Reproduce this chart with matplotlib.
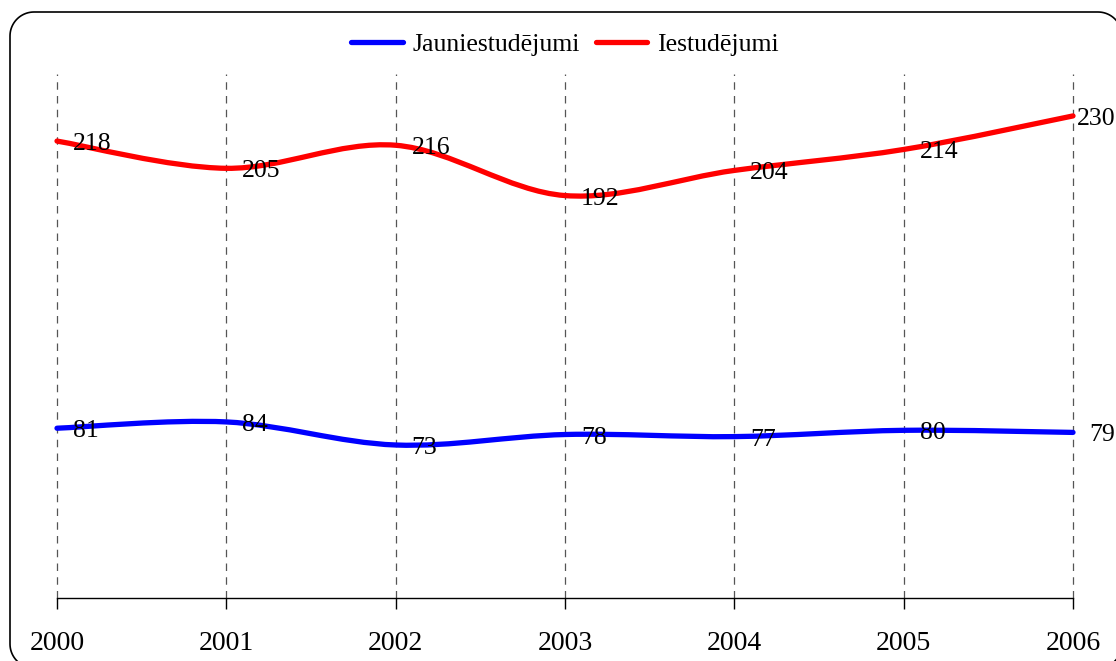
import numpy as np
import matplotlib
matplotlib.use("Agg")
import matplotlib.pyplot as plt
from matplotlib.path import Path
from matplotlib.patches import PathPatch
from matplotlib.lines import Line2D
from matplotlib.transforms import IdentityTransform

# data
years = [2000, 2001, 2002, 2003, 2004, 2005, 2006]
jauni = [81, 84, 73, 78, 77, 80, 79]
iestud = [218, 205, 216, 192, 204, 214, 230]
names = ["Jauniestudējumi", "Iestudējumi"]
colors = ["#0000FF", "#FF0000"]

plt.rcParams['font.family'] = ['Liberation Serif', 'DejaVu Serif']

fig = plt.figure(figsize=(11.16, 6.61), dpi=100)
W, H = 1116, 661
ax = fig.add_axes([57 / W, 63 / H, (1073 - 57) / W, (598 - 74) / H])


def rounded_rect(x0, y0, x1, y1, r):
    # outline of a rounded rectangle in pixels, as a polyline
    xs, ys = [], []
    corners = [(x1 - r, y1 - r, 0), (x0 + r, y1 - r, 90),
               (x0 + r, y0 + r, 180), (x1 - r, y0 + r, 270)]
    for cx, cy, a0 in corners:
        t = np.radians(np.linspace(a0, a0 + 90, 20))
        xs += list(cx + r * np.cos(t))
        ys += list(cy + r * np.sin(t))
    xs.append(xs[0])
    ys.append(ys[0])
    return xs, ys


bx, by = rounded_rect(10, -7, 1122, 649, 24)
fig.add_artist(Line2D(bx, by, transform=IdentityTransform(), color='black', lw=1.2))


def smooth_path(x, y):
    # excel-like smoothed line: bezier segments with catmull-rom control points
    x = np.asarray(x, float)
    y = np.asarray(y, float)
    n = len(x)
    verts = [(x[0], y[0])]
    codes = [Path.MOVETO]
    for i in range(n - 1):
        p0 = i - 1 if i > 0 else i
        p3 = i + 2 if i + 2 < n else i + 1
        c1 = (x[i] + (x[i + 1] - x[p0]) / 6, y[i] + (y[i + 1] - y[p0]) / 6)
        c2 = (x[i + 1] - (x[p3] - x[i]) / 6, y[i + 1] - (y[p3] - y[i]) / 6)
        verts += [c1, c2, (x[i + 1], y[i + 1])]
        codes += [Path.CURVE4] * 3
    return Path(verts, codes)


ax.set_xlim(years[0], years[-1])
ax.set_ylim(0, 250)

for vals, name, col in zip([jauni, iestud], names, colors):
    ax.add_patch(PathPatch(smooth_path(years, vals), fill=False, ec=col,
                           lw=3.8, capstyle='round', zorder=3, clip_on=False))
    ax.plot([], [], color=col, lw=3.8, label=name, solid_capstyle='round')
    for i, (xv, yv) in enumerate(zip(years, vals)):
        dx = 16
        if name == "Iestudējumi" and i == len(years) - 1:
            dx = 4
        ax.annotate(str(yv), (xv, yv), xytext=(dx * 0.72, -3 * 0.72),
                    textcoords='offset points', ha='left', va='center',
                    fontsize=18.5, zorder=4, annotation_clip=False)

for yr in years:
    ax.axvline(yr, color='#555555', lw=0.9, ls=(0, (6, 5)), zorder=1, clip_on=False)

for s in ['top', 'right', 'left']:
    ax.spines[s].set_visible(False)
ax.spines['bottom'].set_linewidth(1.0)
ax.set_yticks([])
ax.set_xticks(years)
ax.set_xticklabels([str(y) for y in years], fontsize=20)
ax.tick_params(axis='x', direction='out', length=8, width=1, pad=16)

fig.legend(loc='upper center', bbox_to_anchor=(565 / W, 0.985), ncol=2,
           frameon=False, fontsize=18.5, handlelength=2.0, handletextpad=0.4,
           columnspacing=0.6)

fig.savefig("out.png", dpi=100)
